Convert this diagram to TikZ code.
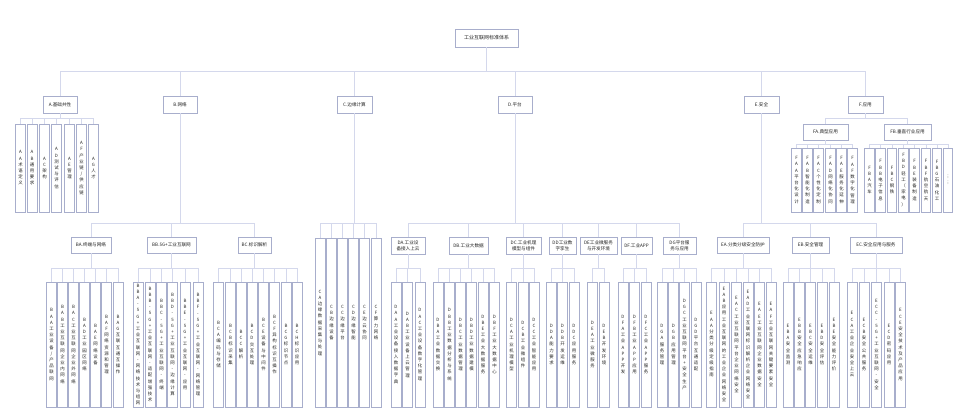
\documentclass[tikz,border=0pt]{standalone}
\usepackage{fontspec}
\setmainfont{Noto Sans CJK SC}
\definecolor{boxc}{RGB}{168,174,204}
\definecolor{linec}{RGB}{212,216,236}
\definecolor{txtc}{RGB}{35,35,35}
\makeatletter
\newcommand\vstack[1]{\setlength{\parindent}{0pt}\@tfor\vs@c:=#1\do{\vs@c\par}}
\makeatother
\tikzset{
 lvl/.style={draw=boxc, line width=0.9pt, fill=white, inner sep=0pt, text=txtc, font=\fontsize{4.6}{5.8}\selectfont, align=center},
 leaf/.style={draw=boxc, line width=0.9pt, fill=white, inner sep=0pt, text=txtc, text width=8pt, minimum width=10pt, align=center, font=\fontsize{4.4}{6.2}\selectfont},
 conn/.style={draw=linec, line width=0.9pt},
}
\newcommand\lbox[6]{\node[lvl, minimum width={(#4-#2)*1pt}, minimum height={(#5-#3)*1pt}] (#1) at ({(#2+#4)/2},{(#3+#5)/2}) {#6};}
\newcommand\leaf[5]{\node[leaf, minimum height={(#4-#3)*1pt}] (#1) at (#2,{(#3+#4)/2}) {\vstack{#5}};}
\newcommand\kids[3]{\foreach \c in {#3} {\draw[conn] (#1.south) |- (#2 -| \c.north) -- (\c.north);}}
\begin{document}
\begin{tikzpicture}[x=1pt,y=-1pt]
\fill[white] (0,0) rectangle (972,419);
\useasboundingbox (0,0) rectangle (972,419);
% buses
\coordinate (bus1) at (0,71);
\coordinate (busL2) at (0,118);
\coordinate (busF2) at (0,144);
\coordinate (busL3) at (0,223);
\coordinate (busL4) at (0,268);
% root
\node[lvl, font=\fontsize{5}{6}\selectfont, minimum width=63pt, minimum height=18pt] (root) at (486.5,38) {工业互联网标准体系};
% level 1
\lbox{A}{43}{96}{77}{113}{A.基础共性}
\lbox{B}{163}{96}{197}{113}{B.网络}
\lbox{C}{337}{96}{372}{113}{C.边缘计算}
\lbox{D}{498}{96}{532}{113}{D.平台}
\lbox{E}{744}{96}{779}{113}{E.安全}
\lbox{F}{848}{96}{883}{113}{F.应用}
\kids{root}{bus1}{A,B,C,D,E,F}
% A leaves
\leaf{AA}{20.5}{124}{212}{AA术语定义}
\leaf{AB}{32}{124}{212}{AB通用要求}
\leaf{AC}{44.5}{124}{212}{AC架构}
\leaf{AD}{56.5}{124}{212}{AD测试与评估}
\leaf{AE}{69.5}{124}{212}{AE管理}
\leaf{AF}{81.5}{124}{212}{AF产业链/供应链}
\leaf{AG}{93.5}{124}{212}{AG人才}
\kids{A}{busL2}{AA,AB,AC,AD,AE,AF,AG}
% F
\lbox{FA}{803}{124}{848}{140}{FA.典型应用}
\lbox{FB}{884}{124}{931}{140}{FB.垂直行业应用}
\kids{F}{busL2}{FA,FB}
\tikzset{leaf/.append style={minimum width=9.5pt}}
\leaf{FAA}{796.5}{148}{212}{FAA平台化设计}
\leaf{FAB}{807.5}{148}{212}{FAB智能化制造}
\leaf{FAC}{818.5}{148}{212}{FAC个性化定制}
\leaf{FAD}{830.5}{148}{212}{FAD网络化协同}
\leaf{FAE}{841.5}{148}{212}{FAE服务化延伸}
\leaf{FAF}{852.5}{148}{212}{FAF数字化管理}
\kids{FA}{busF2}{FAA,FAB,FAC,FAD,FAE,FAF}
\leaf{FBA}{869.5}{148}{212}{FBA汽车}
\leaf{FBB}{880.5}{148}{212}{FBB电子信息}
\leaf{FBC}{892}{148}{212}{FBC钢铁}
\leaf{FBD}{903.5}{148}{212}{FBD轻工（家电）}
\leaf{FBE}{914.5}{148}{212}{FBE装备制造}
\leaf{FBF}{926}{148}{212}{FBF航空航天}
\leaf{FBG}{937}{148}{212}{FBG石油化工}
\leaf{FBH}{948}{148}{212}{︙︙}
\kids{FB}{busF2}{FBA,FBB,FBC,FBD,FBE,FBF,FBG,FBH}
\tikzset{leaf/.append style={minimum width=10pt}}
% B
\lbox{BA}{71}{237}{111}{253}{BA.终端与网络}
\lbox{BB}{147}{237}{196}{253}{BB.5G+工业互联网}
\lbox{BC}{238}{237}{271}{253}{BC.标识解析}
\kids{B}{busL3}{BA,BB,BC}
\leaf{BAA}{51.5}{282}{407}{BAA工业设备/产品联网}
\leaf{BAB}{62.5}{282}{407}{BAB工业互联网企业内网络}
\leaf{BAC}{73.5}{282}{407}{BAC工业互联网企业外网络}
\leaf{BAD}{84.5}{282}{407}{BAD工业园区网络}
\leaf{BAE}{95.5}{282}{407}{BAE网络设备}
\leaf{BAF}{106.5}{282}{407}{BAF网络资源和管理}
\leaf{BAG}{118}{282}{407}{BAG互联互通互操作}
\kids{BA}{busL4}{BAA,BAB,BAC,BAD,BAE,BAF,BAG}
\leaf{BBA}{138}{282}{407}{BBA-5G+工业互联网-网络技术与组网}
\leaf{BBB}{150}{282}{407}{BBB-5G+工业互联网-适配增强技术}
\leaf{BBC}{161.5}{282}{407}{BBC-5G+工业互联网-终端}
\leaf{BBD}{172.5}{282}{407}{BBD-5G+工业互联网-边缘计算}
\leaf{BBE}{185}{282}{407}{BBE-5G+工业互联网-应用}
\leaf{BBF}{198}{282}{407}{BBF-5G+工业互联网-网络管理}
\kids{BB}{busL4}{BBA,BBB,BBC,BBD,BBE,BBF}
\leaf{BCA}{218.5}{282}{407}{BCA编码与存储}
\leaf{BCB}{230.5}{282}{407}{BCB标识采集}
\leaf{BCC}{241}{282}{407}{BCC解析}
\leaf{BCD}{252}{282}{407}{BCD交互处理}
\leaf{BCE}{263.5}{282}{407}{BCE设备与中间件}
\leaf{BCF}{274.5}{282}{407}{BCF异构标识互操作}
\leaf{BCG}{286}{282}{407}{BCG标识节点}
\leaf{BCH}{297}{282}{407}{BCH标识应用}
\kids{BC}{busL4}{BCA,BCB,BCC,BCD,BCE,BCF,BCG,BCH}
% C
\leaf{CA}{320}{238}{407}{CA边缘数据采集与处理}
\leaf{CB}{331.5}{238}{407}{CB边缘设备}
\leaf{CC}{342.5}{238}{407}{CC边缘平台}
\leaf{CD}{353.5}{238}{407}{CD边缘智能}
\leaf{CE}{364.5}{238}{407}{CE边云协同}
\leaf{CF}{376}{238}{407}{CF算力网络}
\kids{C}{busL3}{CA,CB,CC,CD,CE,CF}
% D
\lbox{DA}{391}{237}{425}{254}{DA.工业设\\备接入上云}
\lbox{DB}{449}{237}{488}{254}{DB.工业大数据}
\lbox{DC}{506}{237}{541}{254}{DC.工业机理\\模型与组件}
\lbox{DD}{549}{237}{576}{254}{DD工业数\\字孪生}
\lbox{DE}{580}{237}{617}{254}{DE工业微服务\\与开发环境}
\lbox{DF}{621}{237}{652}{254}{DF.工业APP}
\lbox{DG}{663}{237}{696}{254}{DG平台服\\务与应用}
\kids{D}{busL3}{DA,DB,DC,DD,DE,DF,DG}
\leaf{DAA}{396}{282}{407}{DAA工业设备接入数据字典}
\leaf{DAB}{407.5}{282}{407}{DAB工业设备上云管理}
\leaf{DAC}{420}{282}{407}{DAC工业设备数字化管理}
\kids{DA}{busL4}{DAA,DAB,DAC}
\leaf{DBA}{438}{282}{407}{DBA工业数据交换}
\leaf{DBB}{449.5}{282}{407}{DBB工业数据分析与系统}
\leaf{DBC}{460.5}{282}{407}{DBC工业数据管理}
\leaf{DBD}{471.5}{282}{407}{DBD工业数据建模}
\leaf{DBE}{483}{282}{407}{DBE工业大数据服务}
\leaf{DBF}{494.5}{282}{407}{DBF工业大数据中心}
\kids{DB}{busL4}{DBA,DBB,DBC,DBD,DBE,DBF}
\leaf{DCA}{511.5}{282}{407}{DCA工业机理模型}
\leaf{DCB}{523}{282}{407}{DCB工业微组件}
\leaf{DCC}{534}{282}{407}{DCC工业智能应用}
\kids{DC}{busL4}{DCA,DCB,DCC}
\leaf{DDA}{551.5}{282}{407}{DDA能力要求}
\leaf{DDB}{562.5}{282}{407}{DDB开发运维}
\leaf{DDC}{574}{282}{407}{DDC应用服务}
\kids{DD}{busL4}{DDA,DDB,DDC}
\leaf{DEA}{592.5}{282}{407}{DEA工业微服务}
\leaf{DEB}{604}{282}{407}{DEB开发环境}
\kids{DE}{busL4}{DEA,DEB}
\leaf{DFA}{623}{282}{407}{DFA工业APP开发}
\leaf{DFB}{634.5}{282}{407}{DFB工业APP应用}
\leaf{DFC}{646}{282}{407}{DFC工业APP服务}
\kids{DF}{busL4}{DFA,DFB,DFC}
\leaf{DGA}{662}{282}{407}{DGA服务管理}
\leaf{DGB}{673.5}{282}{407}{DGB应用管理}
\leaf{DGC}{684.5}{282}{407}{DGC工业互联网平台+安全生产}
\leaf{DGD}{696}{282}{407}{DGD平台互通适配}
\kids{DG}{busL4}{DGA,DGB,DGC,DGD}
% E
\lbox{EA}{717}{237}{769}{253}{EA.分类分级安全防护}
\lbox{EB}{792}{237}{829}{253}{EB.安全管理}
\lbox{EC}{850}{237}{902}{253}{EC.安全应用与服务}
\kids{E}{busL3}{EA,EB,EC}
\leaf{EAA}{711.5}{282}{407}{EAA分类分级定级指南}
\leaf{EAB}{724}{282}{407}{EAB应用工业互联网的工业企业网络安全}
\leaf{EAC}{736.5}{282}{407}{EAC工业互联网平台企业网络安全}
\leaf{EAD}{748}{282}{407}{EAD工业互联网标识解析企业网络安全}
\leaf{EAE}{759.5}{282}{407}{EAE工业互联网企业数据安全}
\leaf{EAF}{771}{282}{407}{EAF工业互联网关键要素安全}
\kids{EA}{busL4}{EAA,EAB,EAC,EAD,EAE,EAF}
\leaf{EBA}{788}{282}{407}{EBA安全监测}
\leaf{EBB}{799.5}{282}{407}{EBB安全应急响应}
\leaf{EBC}{810.5}{282}{407}{EBC安全运维}
\leaf{EBD}{822}{282}{407}{EBD安全评估}
\leaf{EBE}{834}{282}{407}{EBE安全能力评价}
\kids{EB}{busL4}{EBA,EBB,EBC,EBD,EBE}
\leaf{ECA}{852}{282}{407}{ECA工业企业安全上云}
\leaf{ECB}{864}{282}{407}{ECB安全公共服务}
\leaf{ECC}{876.5}{282}{407}{ECC-5G+工业互联网-安全}
\leaf{ECD}{889}{282}{407}{ECD密码应用}
\leaf{ECE}{900.5}{282}{407}{ECE安全技术及产品应用}
\kids{EC}{busL4}{ECA,ECB,ECC,ECD,ECE}
\end{tikzpicture}
\end{document}
